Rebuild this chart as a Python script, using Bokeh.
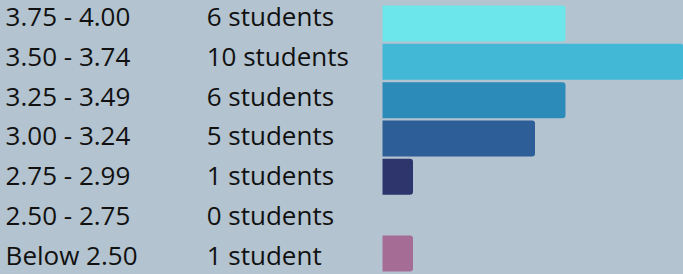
from bokeh.plotting import figure
from bokeh.models import ColumnDataSource, Range1d, GlobalInlineStyleSheet
from bokeh.core.properties import value
from bokeh.embed import file_html
from bokeh.resources import INLINE

# ---- data ----
gpa_ranges = ["3.75 - 4.00", "3.50 - 3.74", "3.25 - 3.49", "3.00 - 3.24",
              "2.75 - 2.99", "2.50 - 2.75", "Below 2.50"]
student_counts = [6, 10, 6, 5, 1, 0, 1]
count_labels = ["6 students", "10 students", "6 students", "5 students",
                "1 students", "0 students", "1 student"]
bar_colors = ["#6ce6ea", "#42b7d6", "#2d8bba", "#2d5e98",
              "#2e346c", "#8a6fa0", "#a56d96"]

BG = "#b3c3cf"
rows = list(range(len(gpa_ranges)))

src = ColumnDataSource(dict(row=rows, gpa=gpa_ranges, n=student_counts,
                            nlab=count_labels, color=bar_colors))

p = figure(width=683, height=274, output_backend="svg", toolbar_location=None,
           x_range=Range1d(-12.525, 9.869), y_range=Range1d(6.548, -0.600),
           min_border=0, min_border_left=0, min_border_right=0,
           min_border_top=0, min_border_bottom=0)
p.extra_y_ranges = {"txt": Range1d(6.490, -0.389)}
p.axis.visible = False
p.grid.visible = False
p.outline_line_color = None
p.background_fill_color = BG
p.border_fill_color = BG
p.stylesheets = [GlobalInlineStyleSheet(css="html, body { background: %s; }" % BG)]

p.hbar(y="row", left=0, right="n", height=0.939, source=src,
       fill_color="color", line_color=None, border_radius=(0, 3, 3, 0))

common = dict(text_font=value("Open Sans"), text_font_size="26px",
              text_color="#111111", text_baseline="alphabetic",
              text_align="left", y_range_name="txt", source=src)
p.text(x=-12.357, y="row", text="gpa", **common)
p.text(x=-5.764, y="row", text="nlab", **common)

open("out.html", "w").write(file_html(p, INLINE))
